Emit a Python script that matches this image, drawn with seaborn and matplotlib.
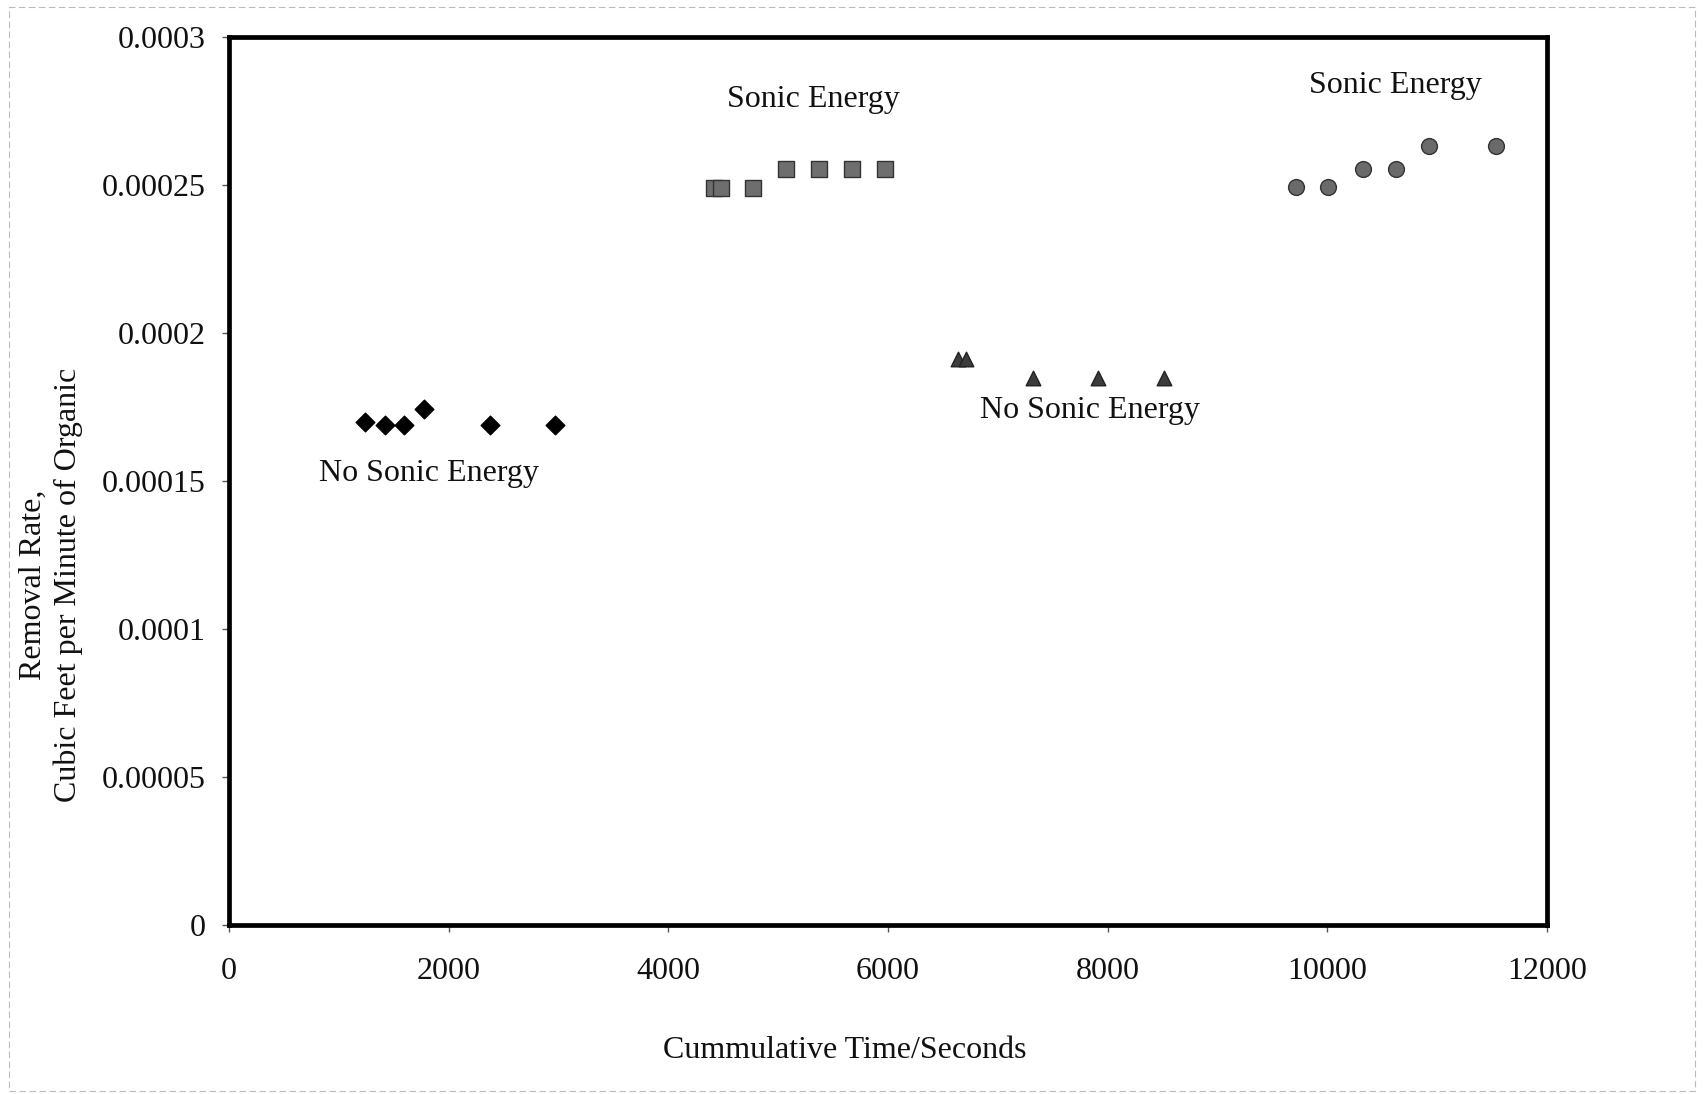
import matplotlib
matplotlib.use("Agg")
import matplotlib.pyplot as plt
import seaborn as sns
import pandas as pd
from matplotlib.patches import Rectangle

sns.set_theme(style="white")
plt.rcParams['font.family'] = ['Liberation Serif', 'DejaVu Serif']

# Data
diamond_x = [1240, 1420, 1595, 1780, 2375, 2970]
diamond_y = [0.0001700, 0.0001690, 0.0001690, 0.0001745, 0.0001690, 0.0001690]

square_x = [4420, 4480, 4770, 5070, 5375, 5670, 5970]
square_y = [0.0002490, 0.0002490, 0.0002490, 0.0002555, 0.0002555, 0.0002555, 0.0002555]

triangle_x = [6640, 6710, 7320, 7910, 8515]
triangle_y = [0.0001912, 0.0001912, 0.0001848, 0.0001848, 0.0001848]

circle_x = [9715, 10010, 10325, 10625, 10930, 11535]
circle_y = [0.0002495, 0.0002495, 0.0002555, 0.0002555, 0.0002633, 0.0002633]

annotations = [
    ("No Sonic Energy", 1822, 0.0001526),
    ("Sonic Energy", 5317, 0.0002790),
    ("No Sonic Energy", 7842, 0.0001738),
    ("Sonic Energy", 10624, 0.0002838),
]

x_ticks = [0, 2000, 4000, 6000, 8000, 10000, 12000]
y_ticks = [0, 0.00005, 0.0001, 0.00015, 0.0002, 0.00025, 0.0003]
y_tick_labels = ["0", "0.00005", "0.0001", "0.00015", "0.0002", "0.00025", "0.0003"]

fig = plt.figure(figsize=(17.05, 10.94), dpi=100)
ax = fig.add_axes([0.1343, 0.1545, 0.7730, 0.8115])

series = [
    (diamond_x, diamond_y, "D", "#000000", "#000000", 90),
    (square_x, square_y, "s", "#6e6e6e", "#333333", 130),
    (triangle_x, triangle_y, "^", "#3c3c3c", "#222222", 110),
    (circle_x, circle_y, "o", "#6a6a6a", "#333333", 130),
]
for xs, ys, mk, col, ec, sz in series:
    df = pd.DataFrame({"x": xs, "y": ys})
    sns.scatterplot(data=df, x="x", y="y", marker=mk, color=col, s=sz,
                    edgecolor=ec, linewidth=1.0, ax=ax, zorder=3)

for text, tx, ty in annotations:
    ax.text(tx, ty, text, ha="center", va="center", fontsize=23, color="#111111")

ax.set_xlim(0, 12000)
ax.set_ylim(0, 0.0003)
ax.set_xticks(x_ticks)
ax.set_xticklabels([str(t) for t in x_ticks])
ax.set_yticks(y_ticks)
ax.set_yticklabels(y_tick_labels)
ax.tick_params(axis="both", which="both", direction="out", length=5, width=1,
               color="#555555", labelsize=23, labelcolor="#111111")
ax.tick_params(axis="x", pad=18)
ax.tick_params(axis="y", pad=12)
ax.tick_params(top=False, right=False, left=True, bottom=True)

for sp in ax.spines.values():
    sp.set_visible(True)
    sp.set_color("#000000")
    sp.set_linewidth(3.4)

ax.set_xlabel("Cummulative Time/Seconds", fontsize=23, color="#111111", labelpad=36)
ax.xaxis.set_label_coords(0.467, -0.125)
ax.set_ylabel("Removal Rate,\nCubic Feet per Minute of Organic", fontsize=23,
              color="#111111", linespacing=1.25)
ax.yaxis.set_label_coords(-0.111, 0.383)
ax.grid(False)

# faint scan border
fig.patches.append(Rectangle((0.005, 0.003), 0.989, 0.991, transform=fig.transFigure,
                             fill=False, edgecolor="#bbbbbb", linewidth=0.8,
                             linestyle=(0, (6, 3))))

fig.savefig("out.png", dpi=100, facecolor="white")
